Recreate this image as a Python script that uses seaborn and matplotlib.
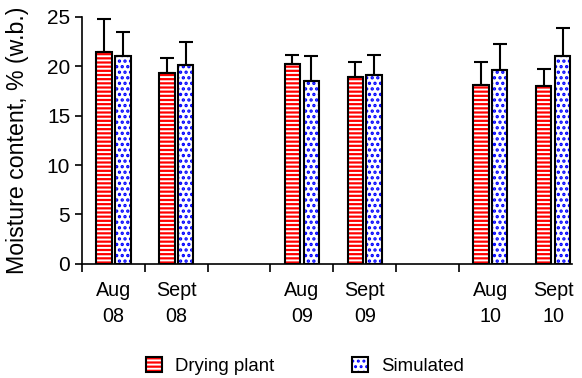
import numpy as np
import pandas as pd
import matplotlib
matplotlib.use("Agg")
import matplotlib.pyplot as plt
from matplotlib.patches import Patch, Rectangle
from matplotlib.legend_handler import HandlerTuple
from matplotlib.ticker import FixedLocator, NullFormatter
import seaborn as sns

# Sampling periods (two blank slots separate the years)
periods = ["Aug\n08", "Sept\n08", " ", "Aug\n09", "Sept\n09", "  ", "Aug\n10", "Sept\n10"]
measured_periods = ["Aug\n08", "Sept\n08", "Aug\n09", "Sept\n09", "Aug\n10", "Sept\n10"]
series_names = ["Drying plant", "Simulated"]

# Mean moisture content, % wet basis
drying_plant = [21.4, 19.3, 20.2, 18.9, 18.1, 18.0]
simulated = [21.0, 20.1, 18.5, 19.1, 19.6, 21.0]

# Upper standard deviation
drying_plant_sd = [3.3, 1.5, 0.95, 1.55, 2.3, 1.65]
simulated_sd = [2.4, 2.3, 2.55, 2.0, 2.6, 2.8]

sns.set_style("ticks")
plt.rcParams["font.family"] = ["Liberation Sans", "DejaVu Sans"]
plt.rcParams["hatch.linewidth"] = 1.4
for key in ("text.color", "axes.labelcolor", "xtick.color", "ytick.color",
            "xtick.labelcolor", "ytick.labelcolor"):
    plt.rcParams[key] = "black"

df = pd.DataFrame({
    "period": measured_periods * 2,
    "series": [series_names[0]] * 6 + [series_names[1]] * 6,
    "mc": drying_plant + simulated,
    "sd": drying_plant_sd + simulated_sd,
})

fill_colors = {"Drying plant": "#ff0000", "Simulated": "#ffffff"}
hatch_colors = {"Drying plant": "#ffffff", "Simulated": "#0000ff"}
hatches = {"Drying plant": "----", "Simulated": "..."}
hatch_widths = {"Drying plant": 1.4, "Simulated": 1.6}


def style_hatch(p, series):
    p.set_edgecolor(hatch_colors[series])
    p.set_hatch(hatches[series])
    p.set_linewidth(0)
    if hasattr(p, "set_hatch_linewidth"):
        p.set_hatch_linewidth(hatch_widths[series])


fig = plt.figure(figsize=(5.82, 3.78), dpi=100)
ax = fig.add_axes([0.1409, 0.3016, 0.8419, 0.6547])

sns.barplot(data=df, x="period", y="mc", hue="series", order=periods,
            hue_order=series_names, palette=fill_colors, width=0.6, gap=0.18,
            errorbar=None, legend=False, ax=ax, saturation=1)

sd_lookup = {(r.period, r.series): r.sd for r in df.itertuples()}

# Restyle bars: hatched fill underneath, black outline on top, one-sided error bar
for patch in list(ax.patches):
    h = patch.get_height()
    if not np.isfinite(h) or h <= 0:
        continue
    x0 = patch.get_x()
    w = patch.get_width()
    xc = x0 + w / 2
    cat = periods[int(round(xc))]
    fc = patch.get_facecolor()
    series = "Drying plant" if fc[1] < 0.5 else "Simulated"
    style_hatch(patch, series)
    ax.add_patch(Rectangle((x0, 0), w, h, fill=False, edgecolor="black",
                           linewidth=1.5, zorder=patch.get_zorder() + 0.2))
    err = sd_lookup[(cat, series)]
    ax.errorbar([xc], [h], yerr=[[0], [err]], fmt="none", ecolor="black",
                elinewidth=1.5, capsize=4.7, capthick=1.5,
                zorder=patch.get_zorder() + 0.1)

ax.set_ylim(0, 25)
ax.set_yticks([0, 5, 10, 15, 20, 25])
ax.set_xlim(-0.5, 7.3)

# Boundary ticks between periods, labels centred in each slot
ax.xaxis.set_major_locator(FixedLocator(np.arange(len(periods) - 1) - 0.5))
ax.xaxis.set_major_formatter(NullFormatter())
ax.xaxis.set_minor_locator(FixedLocator(np.arange(len(periods))))
ax.set_xticklabels(periods, minor=True, linespacing=1.42)
ax.tick_params(axis="x", which="major", length=6, width=1.2, color="black")
ax.tick_params(axis="x", which="minor", length=0, pad=12.5, labelsize=14.2)
ax.tick_params(axis="y", length=5, width=1.2, color="black", pad=3.5, labelsize=15)

ax.set_xlabel("")
ax.set_ylabel("Moisture content, % (w.b.)", fontsize=16.7)
ax.yaxis.set_label_coords(-0.108, 0.5)

sns.despine(ax=ax)
for side in ("left", "bottom"):
    ax.spines[side].set_linewidth(1.2)
    ax.spines[side].set_color("black")

handles = []
for s in series_names:
    fill = Patch(facecolor=fill_colors[s])
    style_hatch(fill, s)
    handles.append((fill, Patch(fill=False, edgecolor="black", linewidth=1.5)))
fig.legend(handles, series_names, handler_map={tuple: HandlerTuple(ndivide=1)},
           loc="center", bbox_to_anchor=(305 / 582, 1 - 366 / 378), ncol=2,
           frameon=False, fontsize=13.4, handlelength=0.85, handleheight=0.9,
           handletextpad=0.7, columnspacing=4.2)

fig.savefig("out.png", dpi=100)
